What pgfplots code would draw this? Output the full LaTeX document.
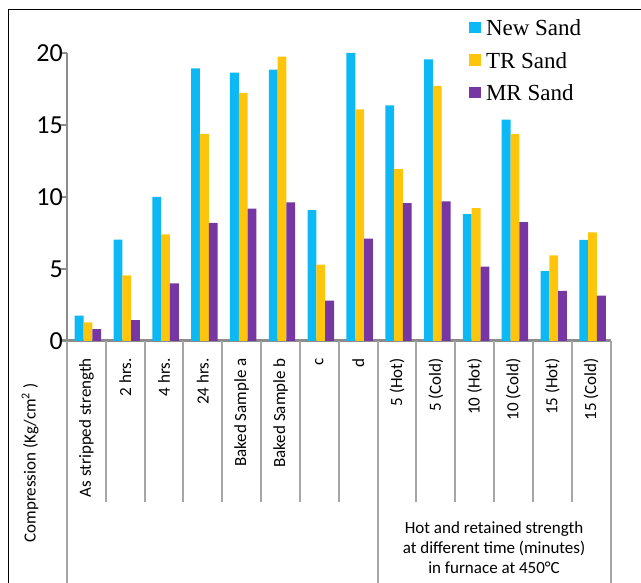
\documentclass[border=0pt]{standalone}
\usepackage{pgfplots}
\pgfplotsset{compat=1.18}
\usepackage{fontspec}
\setmainfont{Carlito}
\newfontfamily\legendfont{Liberation Serif}
\definecolor{newsand}{HTML}{0DB9F4}
\definecolor{trsand}{HTML}{FFC50A}
\definecolor{mrsand}{HTML}{7636A3}
\definecolor{axgray}{HTML}{8C8C8C}
\definecolor{divgray}{HTML}{A6A6A6}
\begin{document}
\begin{tikzpicture}[x=1pt,y=1pt]
\useasboundingbox (0,0) rectangle (641,583);
\draw[black, line width=1.2pt] (8.5,-2) -- (8.5,573.5) -- (643,573.5);
\begin{axis}[
  at={(67pt,242pt)}, anchor=south west,
  scale only axis, width=543.5pt, height=288pt,
  xmin=-0.5, xmax=13.5, ymin=0, ymax=20,
  clip=false,
  ybar=0pt, bar width=8.8pt,
  axis x line*=bottom, axis y line*=left,
  axis line style={draw=axgray, line width=2pt, -},
  x axis line style={line width=3pt, shorten <=-7pt},
  xtick={0,...,13},
  xticklabels={As stripped strength, 2 hrs., 4 hrs., 24 hrs., Baked Sample a, Baked Sample b, c, d, 5 (Hot), 5 (Cold), 10 (Hot), 10 (Cold), 15 (Hot), 15 (Cold)},
  ytick={0,5,10,15,20},
  tick align=outside, major tick length=7pt,
  xtick style={draw=none},
  ytick style={draw=axgray, line width=2pt},
  /pgf/number format/assume math mode=true,
  yticklabel style={font=\fontsize{26}{26}\selectfont, inner sep=0pt, xshift=3pt},
  xticklabel shift=10pt,
  xticklabel style={font=\fontsize{17}{17}\selectfont, rotate=90, anchor=east, inner sep=0pt},
  legend cell align=left,
  legend style={draw=none, fill=none, at={(0.7397,0.974)}, anchor=west, inner sep=0pt, outer sep=0pt,
    font=\legendfont\fontsize{23}{23}\selectfont, column sep=5.5pt, row sep=16.5pt,
    nodes={inner sep=0pt, text height=16pt, text depth=0pt}},
  legend image code/.code={\fill[#1,draw=none] (0pt,-5.5pt) rectangle (11.5pt,6pt);},
]
\addplot[fill=newsand, draw=none, bar shift=-7.3pt] coordinates {
(0,1.76) (1,7.04) (2,10.0) (3,18.93) (4,18.63) (5,18.84) (6,9.09)
(7,20.0) (8,16.36) (9,19.56) (10,8.81) (11,15.38) (12,4.85) (13,7.02)};
\addplot[fill=trsand, draw=none, bar shift=1.5pt] coordinates {
(0,1.30) (1,4.55) (2,7.41) (3,14.38) (4,17.23) (5,19.75) (6,5.31)
(7,16.08) (8,11.94) (9,17.72) (10,9.23) (11,14.38) (12,5.94) (13,7.55)};
\addplot[fill=mrsand, draw=none, bar shift=10.3pt] coordinates {
(0,0.83) (1,1.45) (2,4.01) (3,8.2) (4,9.19) (5,9.63) (6,2.8)
(7,7.11) (8,9.58) (9,9.7) (10,5.17) (11,8.25) (12,3.48) (13,3.15)};
\legend{New Sand, TR Sand, MR Sand}
\pgfplotsinvokeforeach{0.5,1.5,2.5,3.5,4.5,5.5,6.5,8.5,9.5,10.5,11.5,12.5}{
  \draw[divgray, line width=2pt] (axis cs:#1,0) -- ([yshift=-161pt]axis cs:#1,0);}
\pgfplotsinvokeforeach{-0.5,7.5,13.5}{
  \draw[divgray, line width=2pt] (axis cs:#1,0) -- ([yshift=-245pt]axis cs:#1,0);}
\node[align=center, font=\fontsize{17}{20}\selectfont] at ([yshift=-207pt]axis cs:10.5,0)
  {Hot and retained strength\\at different time (minutes)\\in furnace at 450°C};
\node[rotate=90, font=\fontsize{17}{17}\selectfont] at ([xshift=-37pt, yshift=-122pt]axis cs:-0.5,0)
  {Compression (Kg/cm\textsuperscript{2} )};
\end{axis}
\end{tikzpicture}
\end{document}
